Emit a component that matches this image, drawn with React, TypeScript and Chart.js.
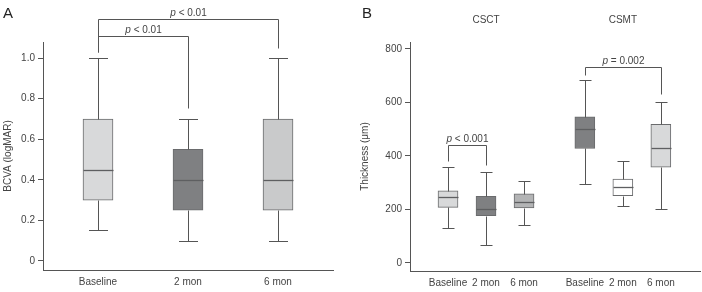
import React, { useEffect, useRef } from "react";
import { Chart, registerables } from "chart.js";

Chart.register(...registerables);

const FONT = "'Liberation Sans', Arial, Helvetica, sans-serif";
const TEXT = "#444444";
const LINE = "#555555";

// ---------- Panel A : BCVA ----------
const aCategories = ["Baseline", "2 mon", "6 mon"];
const aPositions = [1, 2, 3];
const aMin = [0.15, 0.1, 0.1];
const aQ1 = [0.3, 0.25, 0.25];
const aMedian = [0.45, 0.4, 0.4];
const aQ3 = [0.7, 0.55, 0.7];
const aMax = [1.0, 0.7, 1.0];
const aColors = ["#d8d9da", "#7f8082", "#c9cacb"];
const aYTicks = [0, 0.2, 0.4, 0.6, 0.8, 1.0];
// comparisons: from position, to position, bracket top, left end, right end, label
const aCompFrom = [1, 1];
const aCompTo = [3, 2];
const aCompTop = [1.192, 1.108];
const aCompLeftEnd = [1.03, 1.03];
const aCompRightEnd = [1.05, 0.754];
const aCompLabel = [" < 0.01", " < 0.01"];

// ---------- Panel B : Thickness ----------
const bCategories = ["Baseline", "2 mon", "6 mon", "Baseline", "2 mon", "6 mon"];
const bPositions = [1, 2, 3, 4.6, 5.6, 6.6];
const bMin = [132, 66, 141, 297, 212, 203];
const bQ1 = [208, 177, 206, 428, 252, 358];
const bMedian = [245, 203, 227, 502, 284, 428];
const bQ3 = [270, 249, 258, 546, 314, 518];
const bMax = [360, 339, 308, 685, 380, 601];
const bColors = ["#d8d9da", "#7f8082", "#b3b4b5", "#7f8082", "#ffffff", "#d8d9da"];
const bYTicks = [0, 200, 400, 600, 800];
const bGroups = ["CSCT", "CSMT"];
const bGroupCenters = [2, 5.6];
const bCompFrom = [1, 4.6];
const bCompTo = [2, 6.6];
const bCompTop = [440, 731];
const bCompLeftEnd = [380, 702];
const bCompRightEnd = [365, 631];
const bCompLabel = [" < 0.001", " = 0.002"];

type BoxCfg = {
  letter: string;
  letterX: number;
  positions: number[];
  min: number[];
  median: number[];
  max: number[];
  boxWidth: number;
  capWidth: number;
  compFrom: number[];
  compTo: number[];
  compTop: number[];
  compLeft: number[];
  compRight: number[];
  compLabel: string[];
  groups?: string[];
  groupCenters?: number[];
};

function makePlugin(cfg: BoxCfg) {
  return {
    id: "boxExtras",
    afterDatasetsDraw(chart: any) {
      const ctx = chart.ctx as CanvasRenderingContext2D;
      const x = chart.scales.x;
      const y = chart.scales.y;
      const sx = (v: number) => Math.round(x.getPixelForValue(v)) + 0.5;
      const sy = (v: number) => Math.round(y.getPixelForValue(v)) + 0.5;
      ctx.save();
      ctx.lineWidth = 1;
      ctx.strokeStyle = LINE;
      cfg.positions.forEach((p, i) => {
        const px = sx(p);
        const ds = chart.data.datasets[0].data[i];
        const q1 = ds.y[0];
        const q3 = ds.y[1];
        ctx.beginPath();
        ctx.moveTo(px, sy(q3));
        ctx.lineTo(px, sy(cfg.max[i]));
        ctx.moveTo(px, sy(q1));
        ctx.lineTo(px, sy(cfg.min[i]));
        ctx.moveTo(px - cfg.capWidth / 2, sy(cfg.max[i]));
        ctx.lineTo(px + cfg.capWidth / 2, sy(cfg.max[i]));
        ctx.moveTo(px - cfg.capWidth / 2, sy(cfg.min[i]));
        ctx.lineTo(px + cfg.capWidth / 2, sy(cfg.min[i]));
        ctx.stroke();
        ctx.save();
        ctx.strokeStyle = "#5e5f61";
        ctx.lineWidth = 1.3;
        ctx.beginPath();
        ctx.moveTo(px - cfg.boxWidth / 2, sy(cfg.median[i]));
        ctx.lineTo(px + cfg.boxWidth / 2, sy(cfg.median[i]));
        ctx.stroke();
        ctx.restore();
      });
      // brackets
      cfg.compFrom.forEach((f, i) => {
        const x1 = sx(f);
        const x2 = sx(cfg.compTo[i]);
        const top = sy(cfg.compTop[i]);
        ctx.beginPath();
        ctx.moveTo(x1, sy(cfg.compLeft[i]));
        ctx.lineTo(x1, top);
        ctx.lineTo(x2, top);
        ctx.lineTo(x2, sy(cfg.compRight[i]));
        ctx.stroke();
        const italic = "italic 10px " + FONT;
        const normal = "10px " + FONT;
        ctx.font = italic;
        const w1 = ctx.measureText("p").width;
        ctx.font = normal;
        const w2 = ctx.measureText(cfg.compLabel[i]).width;
        const cx = (x1 + x2) / 2;
        const start = cx - (w1 + w2) / 2;
        ctx.fillStyle = TEXT;
        ctx.textBaseline = "alphabetic";
        ctx.textAlign = "left";
        ctx.font = italic;
        ctx.fillText("p", start, top - 4);
        ctx.font = normal;
        ctx.fillText(cfg.compLabel[i], start + w1, top - 4);
      });
      // group headers
      if (cfg.groups && cfg.groupCenters) {
        ctx.fillStyle = TEXT;
        ctx.font = "10px " + FONT;
        ctx.textAlign = "center";
        ctx.textBaseline = "middle";
        cfg.groups.forEach((g, i) => {
          ctx.fillText(g, x.getPixelForValue(cfg.groupCenters![i]), 20);
        });
      }
      // panel letter
      ctx.fillStyle = "#222222";
      ctx.font = "15px " + FONT;
      ctx.textAlign = "left";
      ctx.textBaseline = "alphabetic";
      ctx.fillText(cfg.letter, cfg.letterX, 18);
      ctx.restore();
    },
  };
}

function makeConfig(opts: {
  positions: number[];
  q1: number[];
  q3: number[];
  colors: string[];
  categories: string[];
  xMin: number;
  xMax: number;
  yMin: number;
  yMax: number;
  yTicks: number[];
  yFmt: (v: number) => string;
  yTitle: string;
  yTitlePad: number;
  yWidth: number;
  xHeight: number;
  padRight: number;
  barThickness: number;
  plugin: any;
}): any {
  return {
    type: "bar",
    data: {
      datasets: [
        {
          data: opts.positions.map((p, i) => ({ x: p, y: [opts.q1[i], opts.q3[i]] })),
          backgroundColor: opts.colors,
          borderColor: "#6a6b6d",
          borderWidth: 1,
          borderSkipped: false,
          barThickness: opts.barThickness,
        },
      ],
    },
    options: {
      responsive: false,
      animation: false,
      events: [],
      layout: { padding: { top: 42, right: opts.padRight, left: 0, bottom: 0 } },
      plugins: { legend: { display: false }, tooltip: { enabled: false }, title: { display: false } },
      scales: {
        x: {
          type: "linear",
          offset: false,
          min: opts.xMin,
          max: opts.xMax,
          grid: { display: false, drawTicks: false, tickLength: 0 },
          border: { display: true, color: LINE, width: 1 },
          afterBuildTicks: (s: any) => {
            s.ticks = opts.positions.map((v) => ({ value: v }));
          },
          afterFit: (s: any) => {
            s.height = opts.xHeight;
          },
          ticks: {
            autoSkip: false,
            maxRotation: 0,
            padding: 6,
            color: TEXT,
            font: { family: FONT, size: 10 },
            callback: (_v: any, i: number) => opts.categories[i],
          },
        },
        y: {
          type: "linear",
          min: opts.yMin,
          max: opts.yMax,
          grid: { display: true, drawOnChartArea: false, drawTicks: true, tickLength: 5, color: LINE },
          border: { display: true, color: LINE, width: 1 },
          afterBuildTicks: (s: any) => {
            s.ticks = opts.yTicks.map((v) => ({ value: v }));
          },
          afterFit: (s: any) => {
            s.width = opts.yWidth;
          },
          ticks: {
            padding: 3,
            color: TEXT,
            font: { family: FONT, size: 10 },
            callback: (v: any) => opts.yFmt(Number(v)),
          },
          title: {
            display: true,
            text: opts.yTitle,
            color: TEXT,
            font: { family: FONT, size: 10 },
            padding: { top: opts.yTitlePad, bottom: 0 },
          },
        },
      },
    },
    plugins: [opts.plugin],
  };
}

export default function App() {
  const refA = useRef<HTMLCanvasElement>(null);
  const refB = useRef<HTMLCanvasElement>(null);

  useEffect(() => {
    const chartA = new Chart(
      refA.current!,
      makeConfig({
        positions: aPositions,
        q1: aQ1,
        q3: aQ3,
        colors: aColors,
        categories: aCategories,
        xMin: 0.389,
        xMax: 3.611,
        yMin: -0.045,
        yMax: 1.08,
        yTicks: aYTicks,
        yFmt: (v) => (v === 0 ? "0" : v.toFixed(1)),
        yTitle: "BCVA (logMAR)",
        yTitlePad: 2,
        yWidth: 43,
        xHeight: 22,
        padRight: 17,
        barThickness: 30,
        plugin: makePlugin({
          letter: "A",
          letterX: 3,
          positions: aPositions,
          min: aMin,
          median: aMedian,
          max: aMax,
          boxWidth: 30,
          capWidth: 19,
          compFrom: aCompFrom,
          compTo: aCompTo,
          compTop: aCompTop,
          compLeft: aCompLeftEnd,
          compRight: aCompRightEnd,
          compLabel: aCompLabel,
        }),
      })
    );
    const chartB = new Chart(
      refB.current!,
      makeConfig({
        positions: bPositions,
        q1: bQ1,
        q3: bQ3,
        colors: bColors,
        categories: bCategories,
        xMin: 0,
        xMax: 7.63,
        yMin: -30,
        yMax: 826,
        yTicks: bYTicks,
        yFmt: (v) => String(v),
        yTitle: "Thickness (\u03bcm)",
        yTitlePad: 9,
        yWidth: 60,
        xHeight: 21,
        padRight: 2,
        barThickness: 20,
        plugin: makePlugin({
          letter: "B",
          letterX: 12,
          positions: bPositions,
          min: bMin,
          median: bMedian,
          max: bMax,
          boxWidth: 20,
          capWidth: 12,
          compFrom: bCompFrom,
          compTo: bCompTo,
          compTop: bCompTop,
          compLeft: bCompLeftEnd,
          compRight: bCompRightEnd,
          compLabel: bCompLabel,
          groups: bGroups,
          groupCenters: bGroupCenters,
        }),
      })
    );
    return () => {
      chartA.destroy();
      chartB.destroy();
    };
  }, []);

  return (
    <div style={{ position: "fixed", left: 0, top: 0, width: 702, height: 292, background: "#ffffff" }}>
      <canvas ref={refA} width={350} height={292} style={{ position: "absolute", left: 0, top: 0 }} />
      <canvas ref={refB} width={352} height={292} style={{ position: "absolute", left: 350, top: 0 }} />
    </div>
  );
}
